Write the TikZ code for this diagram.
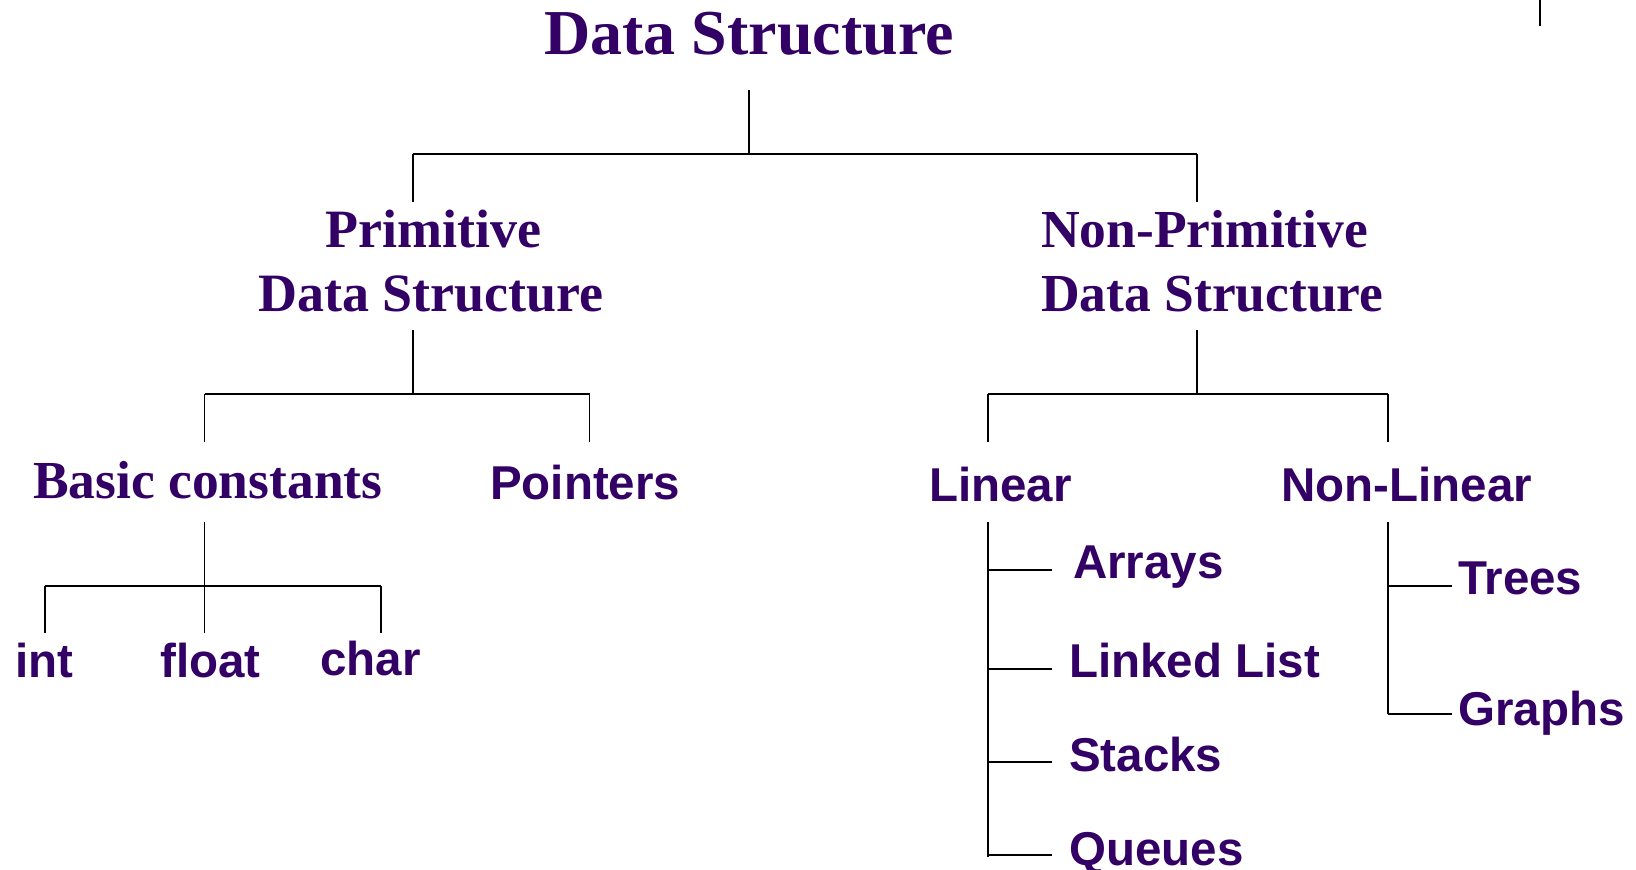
\documentclass[tikz,border=0pt]{standalone}
\usepackage{fontspec}
\setmainfont{Liberation Serif}
\newfontfamily\headsans{Liberation Sans}
\definecolor{deeppurple}{RGB}{51,0,102}
\begin{document}
\begin{tikzpicture}[x=1pt,y=-1pt,
  tline/.style={line width=1.6pt,black},
  hline/.style={line width=2pt,black},
  serifhead/.style={inner sep=0pt,text=deeppurple,font=\bfseries\fontsize{#1}{#1}\selectfont},
  sanslabel/.style={inner sep=0pt,anchor=base west,text=deeppurple,font=\headsans\bfseries\fontsize{47.5}{47.5}\selectfont}]
\useasboundingbox[fill=white] (0,0) rectangle (1636,870);

% headings (serif)
\node[serifhead=64,anchor=base] (root) at (749,54) {Data Structure};
\node[serifhead=54,anchor=base] (prim1) at (433,247) {Primitive};
\node[serifhead=54,anchor=base] (prim2) at (431,311) {Data Structure};
\node[serifhead=53.5,anchor=base west] (nprim1) at (1041,247) {Non-Primitive};
\node[serifhead=53.5,anchor=base west] (nprim2) at (1041,311) {Data Structure};
\node[serifhead=53.5,anchor=base west] (basic) at (33,498) {Basic constants};

% leaves (sans)
\node[sanslabel] (ptr) at (490,499) {Pointers};
\node[sanslabel] (lin) at (929,501) {Linear};
\node[sanslabel] (nlin) at (1281,501) {Non-Linear};
\node[sanslabel] (int) at (15,677) {int};
\node[sanslabel] (flt) at (160,677) {float};
\node[sanslabel] (chr) at (320,675) {char};
\node[sanslabel] (arr) at (1073,578) {Arrays};
\node[sanslabel] (lst) at (1069,677) {Linked List};
\node[sanslabel] (stk) at (1069,771) {Stacks};
\node[sanslabel] (que) at (1069,865) {Queues};
\node[sanslabel] (tre) at (1458,594) {Trees};
\node[sanslabel] (grp) at (1458,725) {Graphs};

% junction points
\coordinate (r-top) at (749,90);
\coordinate (r-bar) at (749,154);
\coordinate (r-l) at (413,154);
\coordinate (r-r) at (1197,154);
\coordinate (r-ld) at (413,202);
\coordinate (r-rd) at (1197,202);

\coordinate (p-top) at (413,330);
\coordinate (p-bar) at (413,394);
\coordinate (p-l) at (204.5,394);
\coordinate (p-r) at (589.5,394);
\coordinate (p-ld) at (204.5,442);
\coordinate (p-rd) at (589.5,442);

\coordinate (n-top) at (1197,330);
\coordinate (n-bar) at (1197,394);
\coordinate (n-l) at (988,394);
\coordinate (n-r) at (1388,394);
\coordinate (n-ld) at (988,442);
\coordinate (n-rd) at (1388,442);

\coordinate (b-top) at (204.5,522);
\coordinate (b-bar) at (204.5,586);
\coordinate (b-l) at (45,586);
\coordinate (b-r) at (381,586);
\coordinate (b-ld) at (45,633);
\coordinate (b-md) at (204.5,633);
\coordinate (b-rd) at (381,633);

\coordinate (l-top) at (988,522);
\coordinate (l-end) at (988,857);
\coordinate (l-a) at (988,570);
\coordinate (l-b) at (988,669);
\coordinate (l-c) at (988,762);
\coordinate (l-d) at (988,855);
\coordinate (l-a2) at (1052,570);
\coordinate (l-b2) at (1052,669);
\coordinate (l-c2) at (1052,762);
\coordinate (l-d2) at (1052,855);

\coordinate (nl-top) at (1388,522);
\coordinate (nl-a) at (1388,586);
\coordinate (nl-b) at (1388,714);
\coordinate (nl-a2) at (1452,586);
\coordinate (nl-b2) at (1452,714);

\coordinate (tick-top) at (1540,0);
\coordinate (tick-bot) at (1540,26);

% connectors
\draw[tline] (r-top) -- (r-bar);
\draw[hline] (r-l) -- (r-r);
\draw[tline] (r-l) -- (r-ld);
\draw[tline] (r-r) -- (r-rd);

\draw[tline] (p-top) -- (p-bar);
\draw[hline] (p-l) -- (p-r);
\draw[tline] (p-l) -- (p-ld);
\draw[tline] (p-r) -- (p-rd);

\draw[tline] (n-top) -- (n-bar);
\draw[hline] (n-l) -- (n-r);
\draw[tline] (n-l) -- (n-ld);
\draw[tline] (n-r) -- (n-rd);

\draw[tline] (b-top) -- (b-md);
\draw[hline] (b-l) -- (b-r);
\draw[tline] (b-l) -- (b-ld);
\draw[tline] (b-r) -- (b-rd);

\draw[tline] (l-top) -- (l-end);
\draw[hline] (l-a) -- (l-a2);
\draw[hline] (l-b) -- (l-b2);
\draw[hline] (l-c) -- (l-c2);
\draw[hline] (l-d) -- (l-d2);

\draw[tline] (nl-top) -- (nl-b);
\draw[hline] (nl-a) -- (nl-a2);
\draw[hline] (nl-b) -- (nl-b2);

\draw[hline] (tick-top) -- (tick-bot);
\end{tikzpicture}
\end{document}
